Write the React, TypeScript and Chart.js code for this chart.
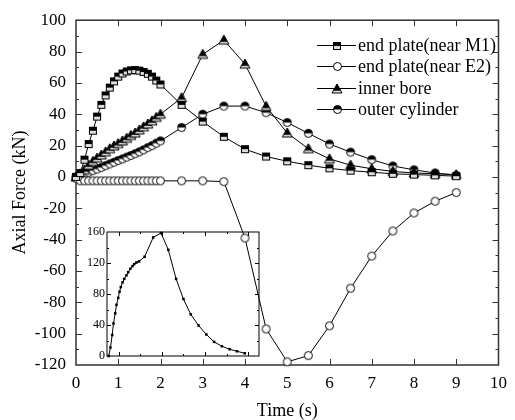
import React, { useEffect, useRef } from 'react';
import { Chart, registerables } from 'chart.js';
Chart.register(...registerables);

const FONT = '"Liberation Serif", "Times New Roman", serif';

// ---- main chart data ----
const timeS = [0, 0.1, 0.2, 0.3, 0.4, 0.5, 0.6, 0.7, 0.8, 0.9, 1.0, 1.1, 1.2, 1.3, 1.4, 1.5, 1.6, 1.7, 1.8, 1.9, 2.0,
  2.5, 3, 3.5, 4, 4.5, 5, 5.5, 6, 6.5, 7, 7.5, 8, 8.5, 9];
const endPlateM1 = [0, 2.5, 11, 21, 29.5, 38.5, 46, 52, 57, 61, 64, 66, 67.3, 68, 68.2, 67.8, 67, 65.8, 64, 61.5, 59,
  46, 35.3, 25.6, 17.7, 13, 10, 7.5, 5.5, 4, 3, 2, 1.5, 1, 0.5];
const endPlateE2 = [-1, -2.5, -2.5, -2.5, -2.5, -2.5, -2.5, -2.5, -2.5, -2.5, -2.5, -2.5, -2.5, -2.5, -2.5, -2.5, -2.5, -2.5, -2.5, -2.5, -2.5,
  -2.5, -2.5, -3, -39, -97, -118, -114, -95, -71, -50.5, -34.5, -23, -15.5, -10];
const innerBore = [0, 2, 4.5, 7.5, 10, 12, 14, 16, 18, 19.8, 21.3, 23, 24.7, 26.5, 28, 30, 32, 33.8, 35.8, 38, 40,
  50.5, 78.2, 87.3, 72, 45, 28, 18, 11.5, 7.5, 5.2, 3.5, 2.5, 2, 1.5];
const outerCylinder = [0, 1, 2, 3, 4, 5, 6, 7.2, 8.3, 9.4, 10.5, 11.5, 12.6, 13.7, 14.8, 16, 17.3, 18.7, 20, 21.5, 23,
  31.5, 40, 45.2, 45.2, 41, 34.7, 27.8, 21, 15.8, 11, 7, 4.5, 2.5, 1];
const seriesLabels = ['end plate(near M1)', 'end plate(near E2)', 'inner bore', 'outer cylinder'];

// ---- inset data ----
const insetT = [0.77, 0.81, 0.85, 0.88, 0.92, 0.95, 0.99, 1.02, 1.05, 1.09, 1.13, 1.18, 1.22, 1.27, 1.32, 1.36, 1.41, 1.47,
  1.6, 1.8, 1.98, 2.15, 2.33, 2.5, 2.67, 2.85, 3.03, 3.21, 3.39, 3.57, 3.74, 3.92];
const insetV = [0, 11, 27, 42, 55, 66, 75, 83, 89, 95, 99.5, 104, 108, 112.5, 116, 118.5, 120.6, 122,
  128, 153, 158.7, 137, 99.5, 73.5, 53.7, 39.4, 27.8, 18.2, 12.6, 8.7, 6.1, 3.5];

function makeMarker(kind: string, size: number): HTMLCanvasElement {
  const pad = 2;
  const d = size + pad * 2;
  const c = document.createElement('canvas');
  c.width = d; c.height = d;
  const g = c.getContext('2d')!;
  g.lineWidth = 1; g.strokeStyle = '#000';
  const cx = d / 2, cy = d / 2, r = size / 2;
  if (kind === 'halfSquare') {
    g.fillStyle = '#ddd'; g.fillRect(cx - r, cy - r, size, size);
    g.fillStyle = '#000'; g.fillRect(cx - r, cy - r, size, size / 2);
    g.strokeRect(cx - r + 0.5, cy - r + 0.5, size - 1, size - 1);
  } else if (kind === 'circle') {
    g.beginPath(); g.arc(cx, cy, r - 0.5, 0, Math.PI * 2);
    g.fillStyle = '#fff'; g.fill(); g.stroke();
  } else if (kind === 'triangle') {
    const top = cy - r, bot = cy + r * 0.8;
    g.beginPath(); g.moveTo(cx, top); g.lineTo(cx + r, bot); g.lineTo(cx - r, bot); g.closePath();
    g.fillStyle = '#ddd'; g.fill();
    g.save(); g.clip();
    g.fillStyle = '#000'; g.fillRect(0, 0, d, top + (bot - top) * 0.75);
    g.restore();
    g.stroke();
  } else if (kind === 'halfCircle') {
    g.beginPath(); g.arc(cx, cy, r - 0.5, 0, Math.PI * 2);
    g.fillStyle = '#fff'; g.fill();
    g.beginPath(); g.arc(cx, cy, r - 0.5, Math.PI, Math.PI * 2); g.closePath();
    g.fillStyle = '#000'; g.fill();
    g.beginPath(); g.arc(cx, cy, r - 0.5, 0, Math.PI * 2); g.stroke();
  }
  return c;
}

function framePlugin(xMajor: number[], xMinor: number[], yMajor: number[], yMinor: number[], majLen: number, minLen: number, lw: number, color: string) {
  return {
    id: 'frameTicks',
    beforeDatasetsDraw(chart: any) {
      const { ctx, chartArea: a, scales } = chart;
      ctx.save();
      ctx.strokeStyle = color;
      ctx.lineWidth = lw;
      ctx.strokeRect(a.left, a.top, a.right - a.left, a.bottom - a.top);
      ctx.lineWidth = 1;
      ctx.beginPath();
      const xt = (v: number, len: number) => {
        const p = Math.round(scales.x.getPixelForValue(v)) + 0.5;
        ctx.moveTo(p, a.bottom); ctx.lineTo(p, a.bottom - len);
        ctx.moveTo(p, a.top); ctx.lineTo(p, a.top + len);
      };
      const yt = (v: number, len: number) => {
        const p = Math.round(scales.y.getPixelForValue(v)) + 0.5;
        ctx.moveTo(a.left, p); ctx.lineTo(a.left + len, p);
        ctx.moveTo(a.right, p); ctx.lineTo(a.right - len, p);
      };
      xMajor.forEach(v => xt(v, majLen));
      xMinor.forEach(v => xt(v, minLen));
      yMajor.forEach(v => yt(v, majLen));
      yMinor.forEach(v => yt(v, minLen));
      ctx.stroke();
      ctx.restore();
    },
  };
}

const legendPlugin = {
  id: 'customLegend',
  afterDraw(chart: any) {
    const ctx = chart.ctx;
    chart.data.datasets.forEach((ds: any, i: number) => {
      const y = Math.round(45 + i * 21.3) + 0.5;
      ctx.save();
      ctx.strokeStyle = '#000'; ctx.lineWidth = 1;
      ctx.beginPath(); ctx.moveTo(317, y); ctx.lineTo(356, y); ctx.stroke();
      const img = ds.pointStyle as HTMLCanvasElement;
      ctx.drawImage(img, Math.round(337 - img.width / 2), Math.round(y - img.height / 2));
      ctx.fillStyle = '#000';
      ctx.font = '18px ' + FONT;
      ctx.textBaseline = 'middle';
      ctx.fillText(ds.label, 358, y + 1);
      ctx.restore();
    });
  },
};

export default function App() {
  const mainRef = useRef<HTMLCanvasElement>(null);
  const insetRef = useRef<HTMLCanvasElement>(null);

  useEffect(() => {
    const mSq = makeMarker('halfSquare', 8);
    const mCi = makeMarker('circle', 9);
    const mTr = makeMarker('triangle', 10);
    const mHc = makeMarker('halfCircle', 9);
    const markers = [mSq, mCi, mTr, mHc];
    const values = [endPlateM1, endPlateE2, innerBore, outerCylinder];

    const main = new Chart(mainRef.current!, {
      type: 'line',
      data: {
        datasets: values.map((vals, i) => ({
          label: seriesLabels[i],
          data: timeS.map((t, k) => ({ x: t, y: vals[k] })),
          borderColor: '#000',
          borderWidth: 1,
          pointStyle: markers[i] as any,
          pointRadius: 5,
          fill: false,
          tension: 0,
          clip: false as any,
        })),
      },
      options: {
        responsive: false,
        animation: false,
        events: [],
        layout: { padding: { left: 0, right: 9, top: 15, bottom: 0 } },
        scales: {
          x: {
            type: 'linear', min: 0, max: 10,
            grid: { display: false, drawTicks: false },
            border: { display: false },
            ticks: { stepSize: 1, color: '#000', font: { family: FONT, size: 17 }, padding: 8, maxRotation: 0, autoSkip: false },
            title: { display: true, text: 'Time (s)', color: '#000', font: { family: FONT, size: 18, lineHeight: 1 }, padding: 0 },
            afterFit: (s: any) => { s.height = 55; },
          },
          y: {
            type: 'linear', min: -120, max: 100,
            grid: { display: false, drawTicks: false },
            border: { display: false },
            ticks: { stepSize: 20, color: '#000', font: { family: FONT, size: 17 }, padding: 10, autoSkip: false },
            title: { display: true, text: 'Axial Force (kN)', color: '#000', font: { family: FONT, size: 18, lineHeight: 1.2 }, padding: { top: 9, bottom: 9 } },
            afterFit: (s: any) => { s.width = 76; },
          },
        },
        plugins: { legend: { display: false }, tooltip: { enabled: false } },
      },
      plugins: [
        framePlugin([1, 2, 3, 4, 5, 6, 7, 8, 9], [], [-100, -80, -60, -40, -20, 0, 20, 40, 60, 80],
          [-110, -90, -70, -50, -30, -10, 10, 30, 50, 70, 90], 6, 3, 1.5, '#333'),
        legendPlugin,
      ],
    } as any);

    const inset = new Chart(insetRef.current!, {
      type: 'line',
      data: {
        datasets: [{
          data: insetT.map((t, k) => ({ x: t, y: insetV[k] })),
          borderColor: '#000',
          backgroundColor: '#000',
          borderWidth: 1,
          pointStyle: 'rect',
          pointRadius: 1.8,
          pointBorderWidth: 0,
          tension: 0,
          clip: false as any,
        }],
      },
      options: {
        responsive: false,
        animation: false,
        events: [],
        layout: { padding: { left: 0, right: 256, top: 232, bottom: 64 } },
        scales: {
          x: {
            type: 'linear', min: 0.73, max: 4.25,
            grid: { display: false, drawTicks: false },
            border: { display: false },
            ticks: { display: false },
            afterFit: (s: any) => { s.height = 0; },
          },
          y: {
            type: 'linear', min: 0, max: 160,
            grid: { display: false, drawTicks: false },
            border: { display: false },
            ticks: { stepSize: 40, color: '#000', font: { family: FONT, size: 12 }, padding: 2 },
            afterFit: (s: any) => { s.width = 107; },
          },
        },
        plugins: { legend: { display: false }, tooltip: { enabled: false } },
      },
      plugins: [framePlugin([1, 2, 3, 4], [1.5, 2.5, 3.5], [40, 80, 120], [20, 60, 100, 140], 4, 2, 1, '#000')],
    } as any);

    return () => { main.destroy(); inset.destroy(); };
  }, []);

  return (
    <div style={{ position: 'fixed', left: 0, top: 0, width: 515, height: 420, background: '#fff' }}>
      <canvas ref={mainRef} width={515} height={420} style={{ position: 'absolute', left: 0, top: 0 }} />
      <canvas ref={insetRef} width={515} height={420} style={{ position: 'absolute', left: 0, top: 0, pointerEvents: 'none' }} />
    </div>
  );
}
